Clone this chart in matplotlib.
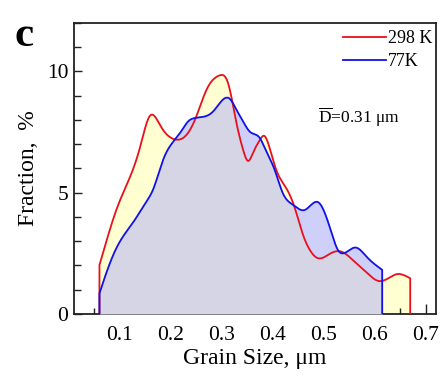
import numpy as np
import matplotlib
matplotlib.use("Agg")
import matplotlib.pyplot as plt
from matplotlib.ticker import MultipleLocator, FixedLocator

plt.rcParams['font.family'] = ['Liberation Serif', 'DejaVu Serif']
plt.rcParams['mathtext.fontset'] = 'custom'
plt.rcParams['mathtext.rm'] = 'Liberation Serif'

# Grain size distribution, 298 K
size_298 = [0.06, 0.075, 0.095, 0.12, 0.14, 0.159, 0.18, 0.208,
            0.231, 0.25, 0.27, 0.296, 0.312, 0.329, 0.342, 0.352, 0.361,
            0.375, 0.383, 0.394, 0.407, 0.425, 0.443, 0.459, 0.473, 0.489, 0.512,
            0.535, 0.557, 0.586, 0.608, 0.625, 0.643, 0.67]
frac_298 = [2.02, 3.1, 4.4, 5.65, 6.9, 8.17, 7.75, 7.2,
            7.39, 8.14, 9.24, 9.84, 9.55, 7.87, 6.77, 6.31, 6.63,
            7.18, 7.35, 6.85, 5.94, 5.25, 4.4, 3.3, 2.64, 2.3, 2.48,
            2.57, 2.23, 1.68, 1.36, 1.45, 1.64, 1.47]

# Grain size distribution, 77 K
size_77 = [0.06, 0.077, 0.094, 0.113, 0.13, 0.15, 0.165, 0.185, 0.218, 0.234,
           0.247, 0.283, 0.316, 0.329, 0.342, 0.355, 0.375, 0.386, 0.404, 0.42,
           0.44, 0.463, 0.49, 0.505, 0.518, 0.528, 0.538, 0.563, 0.584, 0.615]
frac_77 = [0.85, 1.9, 2.75, 3.4, 3.9, 4.57, 5.12, 6.36, 7.46, 7.94,
           8.08, 8.35, 8.87, 8.42, 7.94, 7.52, 7.25, 6.77, 5.94, 4.98,
           4.5, 4.29, 4.6, 4.02, 3.19, 2.64, 2.5, 2.74, 2.37, 1.82]

series_labels = ['298 K', '77K']
x_ticks = [0.1, 0.2, 0.3, 0.4, 0.5, 0.6, 0.7]
y_ticks = [0, 5, 10]
mean_size = 0.31


def spline(x, y, xs):
    """Natural cubic spline through (x, y), evaluated at xs."""
    x = np.asarray(x, float)
    y = np.asarray(y, float)
    n = len(x)
    h = np.diff(x)
    A = np.zeros((n, n))
    r = np.zeros(n)
    A[0, 0] = A[-1, -1] = 1.0
    for i in range(1, n - 1):
        A[i, i - 1] = h[i - 1]
        A[i, i] = 2 * (h[i - 1] + h[i])
        A[i, i + 1] = h[i]
        r[i] = 6 * ((y[i + 1] - y[i]) / h[i] - (y[i] - y[i - 1]) / h[i - 1])
    M = np.linalg.solve(A, r)
    idx = np.clip(np.searchsorted(x, xs) - 1, 0, n - 2)
    a = x[idx + 1] - xs
    b = xs - x[idx]
    hi = h[idx]
    return (M[idx] * a**3 / (6 * hi) + M[idx + 1] * b**3 / (6 * hi)
            + (y[idx] / hi - M[idx] * hi / 6) * a
            + (y[idx + 1] / hi - M[idx + 1] * hi / 6) * b)


fig = plt.figure(figsize=(4.43, 3.8), dpi=100)
ax = fig.add_axes([0.167, 0.1737, 0.8165, 0.7658])

xr = np.linspace(size_298[0], size_298[-1], 1000)
yr = spline(size_298, frac_298, xr)
xb = np.linspace(size_77[0], size_77[-1], 1000)
yb = spline(size_77, frac_77, xb)

# shared range for the overlapping area
xo = np.linspace(max(size_298[0], size_77[0]), min(size_298[-1], size_77[-1]), 1000)
yo = np.minimum(spline(size_298, frac_298, xo), spline(size_77, frac_77, xo))

ax.fill_between(xr, 0, yr, color='#ffffd2', lw=0, zorder=1)
ax.fill_between(xb, 0, yb, color='#cfd0fa', lw=0, zorder=2)
ax.fill_between(xo, 0, yo, color='#d5d5e6', lw=0, zorder=3)

red_x = np.concatenate([[xr[0]], xr, [xr[-1]]])
red_y = np.concatenate([[0], yr, [0]])
blue_x = np.concatenate([[xb[0]], xb, [xb[-1]]])
blue_y = np.concatenate([[0], yb, [0]])
ax.plot(red_x, red_y, color='#e8101a', lw=1.3, zorder=4, label=series_labels[0])
ax.plot(blue_x, blue_y, color='#1010e8', lw=1.3, zorder=5, label=series_labels[1])

ax.set_xlim(0.01, 0.72)
ax.set_ylim(0, 12)
ax.xaxis.set_major_locator(FixedLocator(x_ticks))
ax.set_xticklabels([f'{v:g}' for v in x_ticks])
ax.xaxis.set_minor_locator(MultipleLocator(0.05))
ax.yaxis.set_major_locator(FixedLocator(y_ticks))
ax.yaxis.set_minor_locator(MultipleLocator(1))

ax.tick_params(which='both', direction='in', top=False, right=False,
               labelsize=15.5, width=1.0, color='#222222')
ax.tick_params(axis='x', which='major', length=7, pad=9)
ax.tick_params(axis='x', which='minor', length=4)
ax.tick_params(axis='y', which='major', length=6, pad=4)
ax.tick_params(axis='y', which='minor', length=5)
for s in ax.spines.values():
    s.set_linewidth(1.3)
    s.set_color('#222222')

ax.set_xlabel('Grain Size, μm', fontsize=17, labelpad=2)
ax.set_ylabel('Fraction,  %', fontsize=17, labelpad=6)

ax.legend(loc='upper right', bbox_to_anchor=(1.004, 0.99), frameon=False,
          fontsize=13, handlelength=2.35, handletextpad=0.15, labelspacing=0.3,
          borderaxespad=0.0, borderpad=0.25)

ax.text(0.675, 0.656, r'$\overline{\mathrm{D}}$' + f'={mean_size:g} μm',
        transform=ax.transAxes, fontsize=12.5, ha='left', va='baseline')

fig.text(15 / 443, 1 - 46 / 380, 'c', fontsize=31, fontweight='bold',
         ha='left', va='baseline')

fig.savefig('out.png', dpi=100)
